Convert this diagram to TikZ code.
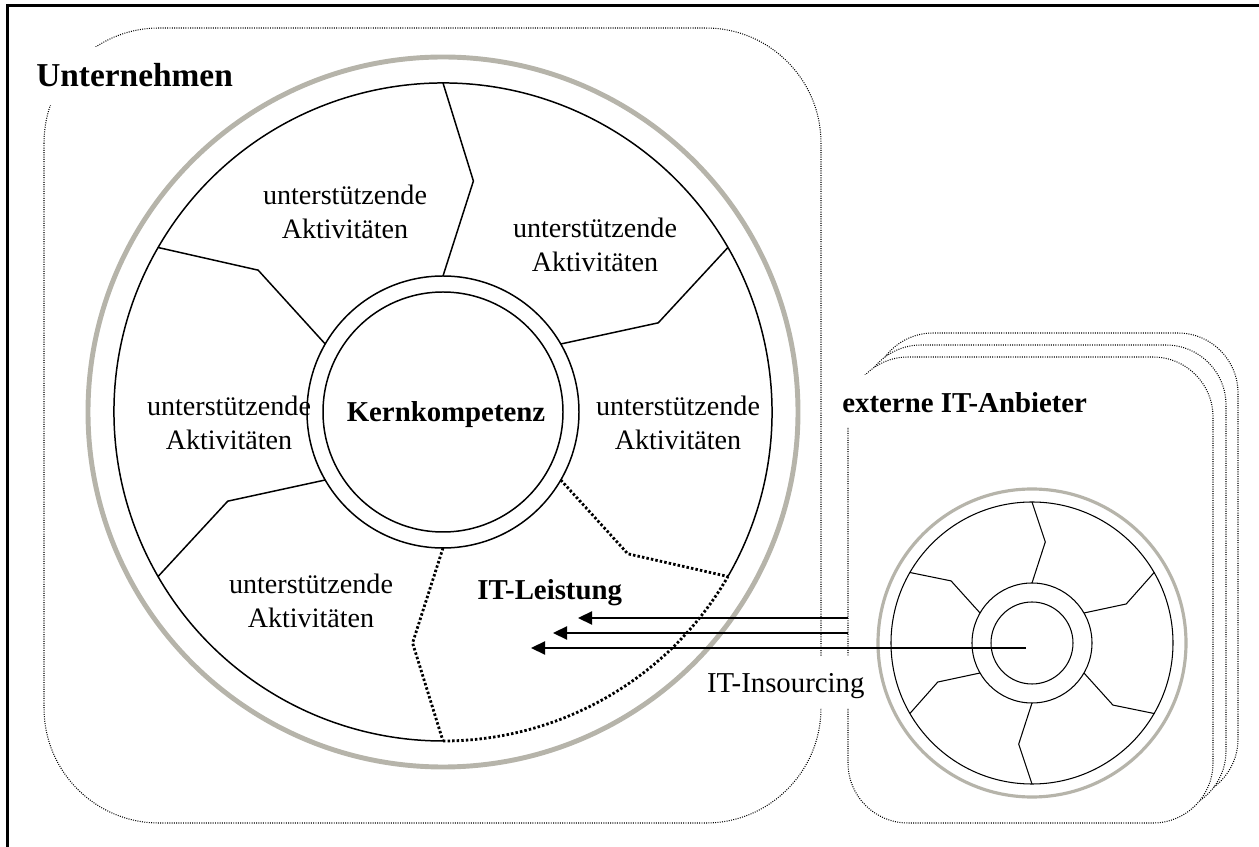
\documentclass[tikz,border=0pt]{standalone}
\usepackage{fontspec}
\setmainfont{Liberation Serif}
\usetikzlibrary{arrows.meta}
\definecolor{ringgray}{RGB}{182,180,170}
\begin{document}
\begin{tikzpicture}[x=0.02cm,y=-0.02cm,
  frameline/.style={line width=1.4pt},
  boxline/.style={line width=0.6pt, dash pattern=on 0.55pt off 0.75pt},
  sectorline/.style={line width=0.85pt, line join=miter},
  smallline/.style={line width=0.6pt, line join=miter},
  itline/.style={line width=1.6pt, dash pattern=on 1.4pt off 1.2pt},
  bigring/.style={draw=ringgray, line width=2.8pt},
  smallring/.style={draw=ringgray, line width=1.8pt},
  flow/.style={line width=1.4pt, -{Triangle[length=8pt,width=7.4pt]}},
  act/.style={font=\fontsize{16}{19.5}\selectfont, align=center, inner sep=0pt},
  heading/.style={font=\fontsize{16.4}{19}\selectfont\bfseries},
  cover/.style={fill=white, anchor=base west}
]
\useasboundingbox (0,0) rectangle (1259,847);
\clip (0,0) rectangle (1259,847);

% page frame
\draw[frameline] (7.5,5.5) rectangle (1270,860);

% company boundary
\draw[boxline, rounded corners=2.3cm] (44,28) rectangle (821,823);

% stacked provider boundaries, back to front
\draw[boxline, fill=white, rounded corners=1.2cm] (873,333) rectangle (1238,799);
\draw[boxline, fill=white, rounded corners=1.2cm] (861,345) rectangle (1226,811);
\draw[boxline, fill=white, rounded corners=1.2cm] (848,357) rectangle (1213,823);

% headings with white backgrounds that interrupt the boundaries
\node[cover, font=\fontsize{19}{22}\selectfont\bfseries, inner xsep=3.4pt, inner ysep=4pt,
      text height=18.7pt, text depth=6.2pt] (firm) at (30,87) {Unternehmen};
\node[cover, heading, inner xsep=2.3pt, inner ysep=4pt,
      text height=17.5pt, text depth=3.9pt] (vendors) at (838,413) {externe IT-Anbieter};
\node[cover, font=\fontsize{16.4}{19}\selectfont, inner xsep=1pt, inner ysep=4pt,
      text height=17pt, text depth=4.5pt] (insourcing) at (705,693) {IT-Insourcing};

% company wheel
\coordinate (firmcenter) at (443,412);
\begin{scope}[shift={(firmcenter)}, y=0.02cm]
  \draw[bigring] (0,0) circle[radius=355];
  \draw[sectorline] (0,0) circle[radius=136];
  \draw[sectorline] (0,0) circle[radius=120];
  \draw[sectorline] (-30:329) arc[start angle=-30, end angle=270, radius=329];
  \draw[itline] (-90:329) arc[start angle=-90, end angle=-30, radius=329];
  \foreach \a in {30,90,150,210}
    \draw[sectorline] (\a:136) -- (\a-7.5:233) -- (\a:329);
  \foreach \a in {-90,-30}
    \draw[itline] (\a:136) -- (\a-7.5:233) -- (\a:329);
\end{scope}

% provider wheel
\coordinate (vendorcenter) at (1032,643);
\begin{scope}[shift={(vendorcenter)}, y=0.02cm]
  \draw[smallring] (0,0) circle[radius=154];
  \draw[smallline] (0,0) circle[radius=141];
  \draw[smallline] (0,0) circle[radius=60];
  \draw[smallline] (0,0) circle[radius=41];
  \foreach \a in {30,90,150,210,270,330}
    \draw[smallline] (\a:60) -- (\a-7.5:102) -- (\a:141);
\end{scope}

% labels inside the company wheel
\node[act] (act1) at (345,212) {unterstützende\\Aktivitäten};
\node[act] (act2) at (595,245) {unterstützende\\Aktivitäten};
\node[act] (act3) at (678,423) {unterstützende\\Aktivitäten};
\node[act] (act4) at (229,423) {unterstützende\\Aktivitäten};
\node[act] (act5) at (311,601) {unterstützende\\Aktivitäten};
\node[heading, anchor=base] (core) at (446,422) {Kernkompetenz};
\node[heading, anchor=base west, inner sep=0pt] (itservice) at (477,600) {IT-Leistung};

% insourcing flows
\coordinate (src1) at (848,618);
\coordinate (src2) at (848,633);
\coordinate (src3) at (1026,648);
\coordinate (dst1) at (578,618);
\coordinate (dst2) at (553,633);
\coordinate (dst3) at (531,648);
\draw[flow] (src1) -- (dst1);
\draw[flow] (src2) -- (dst2);
\draw[flow] (src3) -- (dst3);
\end{tikzpicture}
\end{document}
